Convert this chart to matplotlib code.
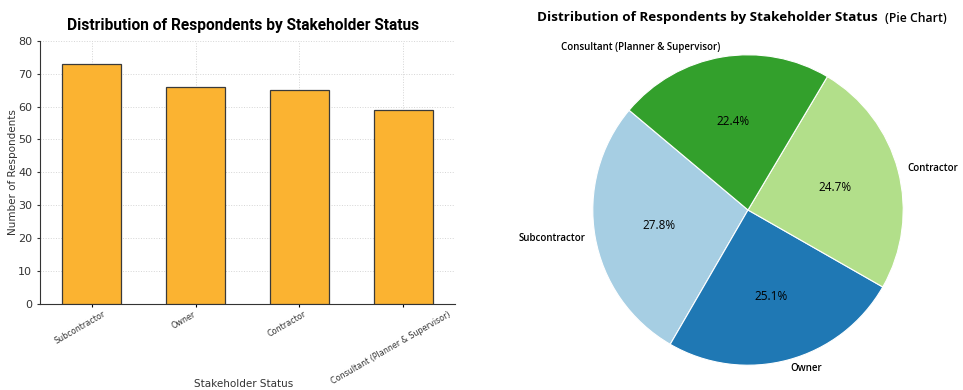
import matplotlib.pyplot as plt
from matplotlib.transforms import ScaledTranslation

# respondents per stakeholder group
categories = ['Subcontractor', 'Owner', 'Contractor', 'Consultant (Planner & Supervisor)']
counts = [73, 66, 65, 59]
yticks = [0, 10, 20, 30, 40, 50, 60, 70, 80]

pie_colors = ['#a6cee3', '#1f78b4', '#b2df8a', '#33a02c']

fig = plt.figure(figsize=(9.63, 3.9), dpi=100)

# bar chart
ax1 = fig.add_axes([0.0415, 0.2205, 0.431, 0.675])
x = range(len(categories))
ax1.bar(x, counts, width=0.57, color='#fbb331', edgecolor='#3a3a3a', linewidth=0.9, zorder=3)
ax1.set_xlim(-0.5, 3.5)
ax1.set_ylim(0, 80)
ax1.set_yticks(yticks)
ax1.set_xticks(list(x))
ax1.tick_params(axis='y', labelsize=8, colors='#333333', length=2)
ax1.tick_params(axis='x', length=2, pad=2)
ax1.set_xticklabels(categories, rotation=30, fontsize=5.8, color='#333333')
# nudge rotated category labels a little to the left
shift = ScaledTranslation(-0.12, 0, fig.dpi_scale_trans)
for lbl in ax1.get_xticklabels():
    lbl.set_horizontalalignment('center')
    lbl.set_transform(lbl.get_transform() + shift)
ax1.grid(True, linestyle=':', color='#d5d5d5', linewidth=0.7, zorder=0)
for s in ['top', 'right']:
    ax1.spines[s].set_visible(False)
ax1.spines['left'].set_color('#333333')
ax1.spines['bottom'].set_color('#333333')
ax1.set_ylabel('Number of Respondents', fontsize=7.5, color='#333333')
ax1.yaxis.set_label_coords(-0.054, 0.5)
ax1.set_xlabel('Stakeholder Status', fontsize=7.5, color='#333333')
ax1.xaxis.set_label_coords(0.49, -0.283)
fig.text(0.252, 0.935, 'Distribution of Respondents by Stakeholder Status',
         ha='center', va='center', fontsize=11.2, fontweight='bold', family='Roboto')

# pie chart
ax2 = fig.add_axes([554 / 963, -14 / 390, 388 / 963, 388 / 390])
wedges, texts, autotexts = ax2.pie(
    counts, labels=categories, colors=pie_colors, autopct='%1.1f%%',
    startangle=140, labeldistance=1.06, pctdistance=0.58,
    wedgeprops={'edgecolor': 'white', 'linewidth': 0.8},
    textprops={'family': 'Open Sans', 'fontsize': 7, 'fontweight': 'semibold'})
for t in autotexts:
    t.set_fontsize(8.5)
    t.set_fontweight('normal')
ax2.set_aspect('equal')

fig.text(537 / 963, 0.955, 'Distribution of Respondents by Stakeholder Status',
         ha='left', va='center', fontsize=9.7, fontweight='bold', family='Open Sans')
fig.text(885 / 963, 0.952, '(Pie Chart)', ha='left', va='center', fontsize=8.8,
         fontweight='semibold', family='Open Sans')

fig.savefig('out.png', dpi=100)
